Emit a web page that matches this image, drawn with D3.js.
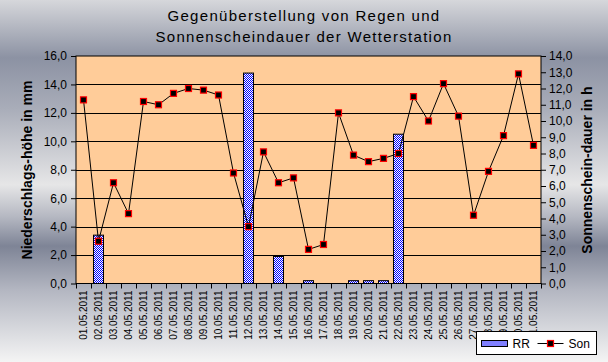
<!DOCTYPE html>
<meta charset="UTF-8">
<script src="https://d3js.org/d3.v7.min.js"></script>
<style>
body { margin: 0; }
text { font-family: "Liberation Sans", Arial, sans-serif; }
</style>
<div id="chart"></div>
<script>

// data
var days = ["01.05.2011","02.05.2011","03.05.2011","04.05.2011","05.05.2011","06.05.2011","07.05.2011","08.05.2011","09.05.2011","10.05.2011","11.05.2011","12.05.2011","13.05.2011","14.05.2011","15.05.2011","16.05.2011","17.05.2011","18.05.2011","19.05.2011","20.05.2011","21.05.2011","22.05.2011","23.05.2011","24.05.2011","25.05.2011","26.05.2011","27.05.2011","28.05.2011","29.05.2011","30.05.2011","31.05.2011"]
var rain = [0, 3.4, 0, 0, 0, 0, 0, 0, 0, 0, 0, 14.8, 0, 1.9, 0, 0.2, 0, 0, 0.2, 0.2, 0.2, 10.5, 0, 0, 0, 0, 0, 0, 0, 0, 0]
var sun = [11.3, 2.6, 6.2, 4.3, 11.2, 11.0, 11.7, 12.0, 11.9, 11.6, 6.8, 3.5, 8.1, 6.2, 6.5, 2.1, 2.4, 10.5, 7.9, 7.5, 7.7, 8.0, 11.5, 10.0, 12.3, 10.3, 4.2, 6.9, 9.1, 12.9, 8.5]
var leftTicks = [0, 2, 4, 6, 8, 10, 12, 14, 16]
var rightTicks = [0, 1, 2, 3, 4, 5, 6, 7, 8, 9, 10, 11, 12, 13, 14]

var width = 608
var height = 362
var pLeft = 76, pRight = 541, pTop = 56, pBottom = 283.5

var svg = d3.select("#chart").append("svg")
    .attr("width", width)
    .attr("height", height)

var defs = svg.append("defs")

// metallic background
var grad = defs.append("linearGradient").attr("id", "bg")
    .attr("x1", 0).attr("y1", 0).attr("x2", 0).attr("y2", 1)
var stops = [[0, "#d6d7db"], [0.16, "#8c92a3"], [0.3, "#a9adb9"], [0.51, "#e6e6e7"], [0.6, "#b4b7c1"], [0.68, "#7e8496"], [0.8, "#b3b6c1"], [1, "#f4f4f4"]]
stops.forEach(function(s){
    grad.append("stop").attr("offset", s[0]).attr("stop-color", s[1])
})

// checkered fill for the bars
var pat = defs.append("pattern").attr("id", "check")
    .attr("width", 2).attr("height", 2).attr("patternUnits", "userSpaceOnUse")
pat.append("rect").attr("width", 2).attr("height", 2).attr("fill", "#ffffff")
pat.append("rect").attr("width", 1).attr("height", 1).attr("fill", "#0000ff")
pat.append("rect").attr("x", 1).attr("y", 1).attr("width", 1).attr("height", 1).attr("fill", "#0000ff")

svg.append("rect").attr("width", width).attr("height", height).attr("fill", "url(#bg)")

// scales
var x = d3.scaleBand().domain(days).range([pLeft, pRight]).paddingInner(0.32).paddingOuter(0.16)
var xi = d3.scaleLinear().domain([0, days.length]).range([pLeft, pRight])
var yL = d3.scaleLinear().domain([0, 16]).range([pBottom, pTop])
var yR = d3.scaleLinear().domain([0, 14]).range([pBottom, pTop])

// plot area
svg.append("rect")
    .attr("x", pLeft).attr("y", pTop)
    .attr("width", pRight - pLeft).attr("height", pBottom - pTop)
    .attr("fill", "#ffcc99")

svg.append("g").selectAll("line")
    .data(leftTicks.slice(1, -1))
    .enter().append("line")
        .attr("x1", pLeft).attr("x2", pRight)
        .attr("y1", function(d){ return Math.round(yL(d)) + 0.5 })
        .attr("y2", function(d){ return Math.round(yL(d)) + 0.5 })
        .attr("stroke", "black")

// bars
svg.append("g").selectAll("rect")
    .data(rain)
    .enter().append("rect")
        .attr("x", function(d, i){ return Math.round(x(days[i])) + 0.5 })
        .attr("width", Math.round(x.bandwidth()))
        .attr("y", function(d){ return yL(d) })
        .attr("height", function(d){ return pBottom - yL(d) })
        .attr("fill", "url(#check)")
        .attr("stroke", "black")
        .attr("stroke-width", 1)
        .style("display", function(d){ return d > 0 ? null : "none" })

svg.append("rect")
    .attr("x", pLeft).attr("y", pTop)
    .attr("width", pRight - pLeft).attr("height", pBottom - pTop)
    .attr("fill", "none").attr("stroke", "black")

// sunshine line
var line = d3.line()
    .x(function(d, i){ return x(days[i]) + x.bandwidth() / 2 })
    .y(function(d){ return yR(d) })

svg.append("path")
    .datum(sun)
    .attr("d", line)
    .attr("fill", "none")
    .attr("stroke", "black")
    .attr("stroke-width", 1)

svg.append("g").selectAll("rect")
    .data(sun)
    .enter().append("rect")
        .attr("x", function(d, i){ return x(days[i]) + x.bandwidth() / 2 - 3 })
        .attr("y", function(d){ return yR(d) - 3 })
        .attr("width", 6).attr("height", 6)
        .attr("fill", "black")
        .attr("stroke", "#ff0000")
        .attr("stroke-width", 1.2)

// axes
var axL = svg.append("g")
    .attr("transform", "translate(" + pLeft + ",0)")
    .call(d3.axisLeft(yL).tickValues(leftTicks).tickSize(5).tickPadding(4)
        .tickFormat(function(d){ return d3.format(".1f")(d).replace(".", ",") }))
var axR = svg.append("g")
    .attr("transform", "translate(" + pRight + ",0)")
    .call(d3.axisRight(yR).tickValues(rightTicks).tickSize(5).tickPadding(3)
        .tickFormat(function(d){ return d3.format(".1f")(d).replace(".", ",") }))
var axB = svg.append("g")
    .attr("transform", "translate(0," + pBottom + ")")
    .call(d3.axisBottom(xi).ticks(days.length).tickSize(5).tickFormat(""))

;[axL, axR, axB].forEach(function(a){
    a.select(".domain").remove()
    a.selectAll("line").attr("stroke", "black")
    a.selectAll("text").attr("fill", "black").style("font-size", "12px")
        .style("font-family", "'Liberation Sans', Arial, sans-serif")
})

// day labels
svg.append("g").selectAll("text")
    .data(days)
    .enter().append("text")
        .attr("transform", function(d){
            return "translate(" + (x(d) + x.bandwidth() / 2) + "," + (pBottom + 7) + ") rotate(-90)"
        })
        .attr("text-anchor", "end")
        .attr("dy", "0.36em")
        .style("font-size", "10px")
        .text(function(d){ return d })

// titles
svg.append("text")
    .attr("x", 304).attr("y", 21)
    .attr("text-anchor", "middle")
    .style("font-size", "15px").style("letter-spacing", "1.3px")
    .text("Gegenüberstellung von Regen und")
svg.append("text")
    .attr("x", 304).attr("y", 42)
    .attr("text-anchor", "middle")
    .style("font-size", "15px").style("letter-spacing", "1.3px")
    .text("Sonnenscheindauer der Wetterstation")

svg.append("text")
    .attr("transform", "translate(32,170) rotate(-90)")
    .attr("text-anchor", "middle")
    .style("font-size", "14px").style("font-weight", "bold")
    .text("Niederschlags-höhe in mm")
svg.append("text")
    .attr("transform", "translate(592,170) rotate(-90)")
    .attr("text-anchor", "middle")
    .style("font-size", "14px").style("font-weight", "bold")
    .text("Sonnenschein-dauer in h")

// legend
var lg = svg.append("g").attr("transform", "translate(476.5,331.5)")
lg.append("rect").attr("width", 120).attr("height", 23)
    .attr("fill", "white").attr("stroke", "black")
lg.append("rect").attr("x", 5).attr("y", 9).attr("width", 26).attr("height", 6)
    .attr("fill", "url(#check)").attr("stroke", "black")
lg.append("text").attr("x", 36).attr("y", 16.5).style("font-size", "12px").text("RR")
lg.append("line").attr("x1", 61).attr("x2", 87).attr("y1", 12).attr("y2", 12).attr("stroke", "black")
lg.append("rect").attr("x", 71).attr("y", 9).attr("width", 6).attr("height", 6)
    .attr("fill", "black").attr("stroke", "#ff0000").attr("stroke-width", 1.2)
lg.append("text").attr("x", 92).attr("y", 16.5).style("font-size", "12px").text("Son")

</script>
